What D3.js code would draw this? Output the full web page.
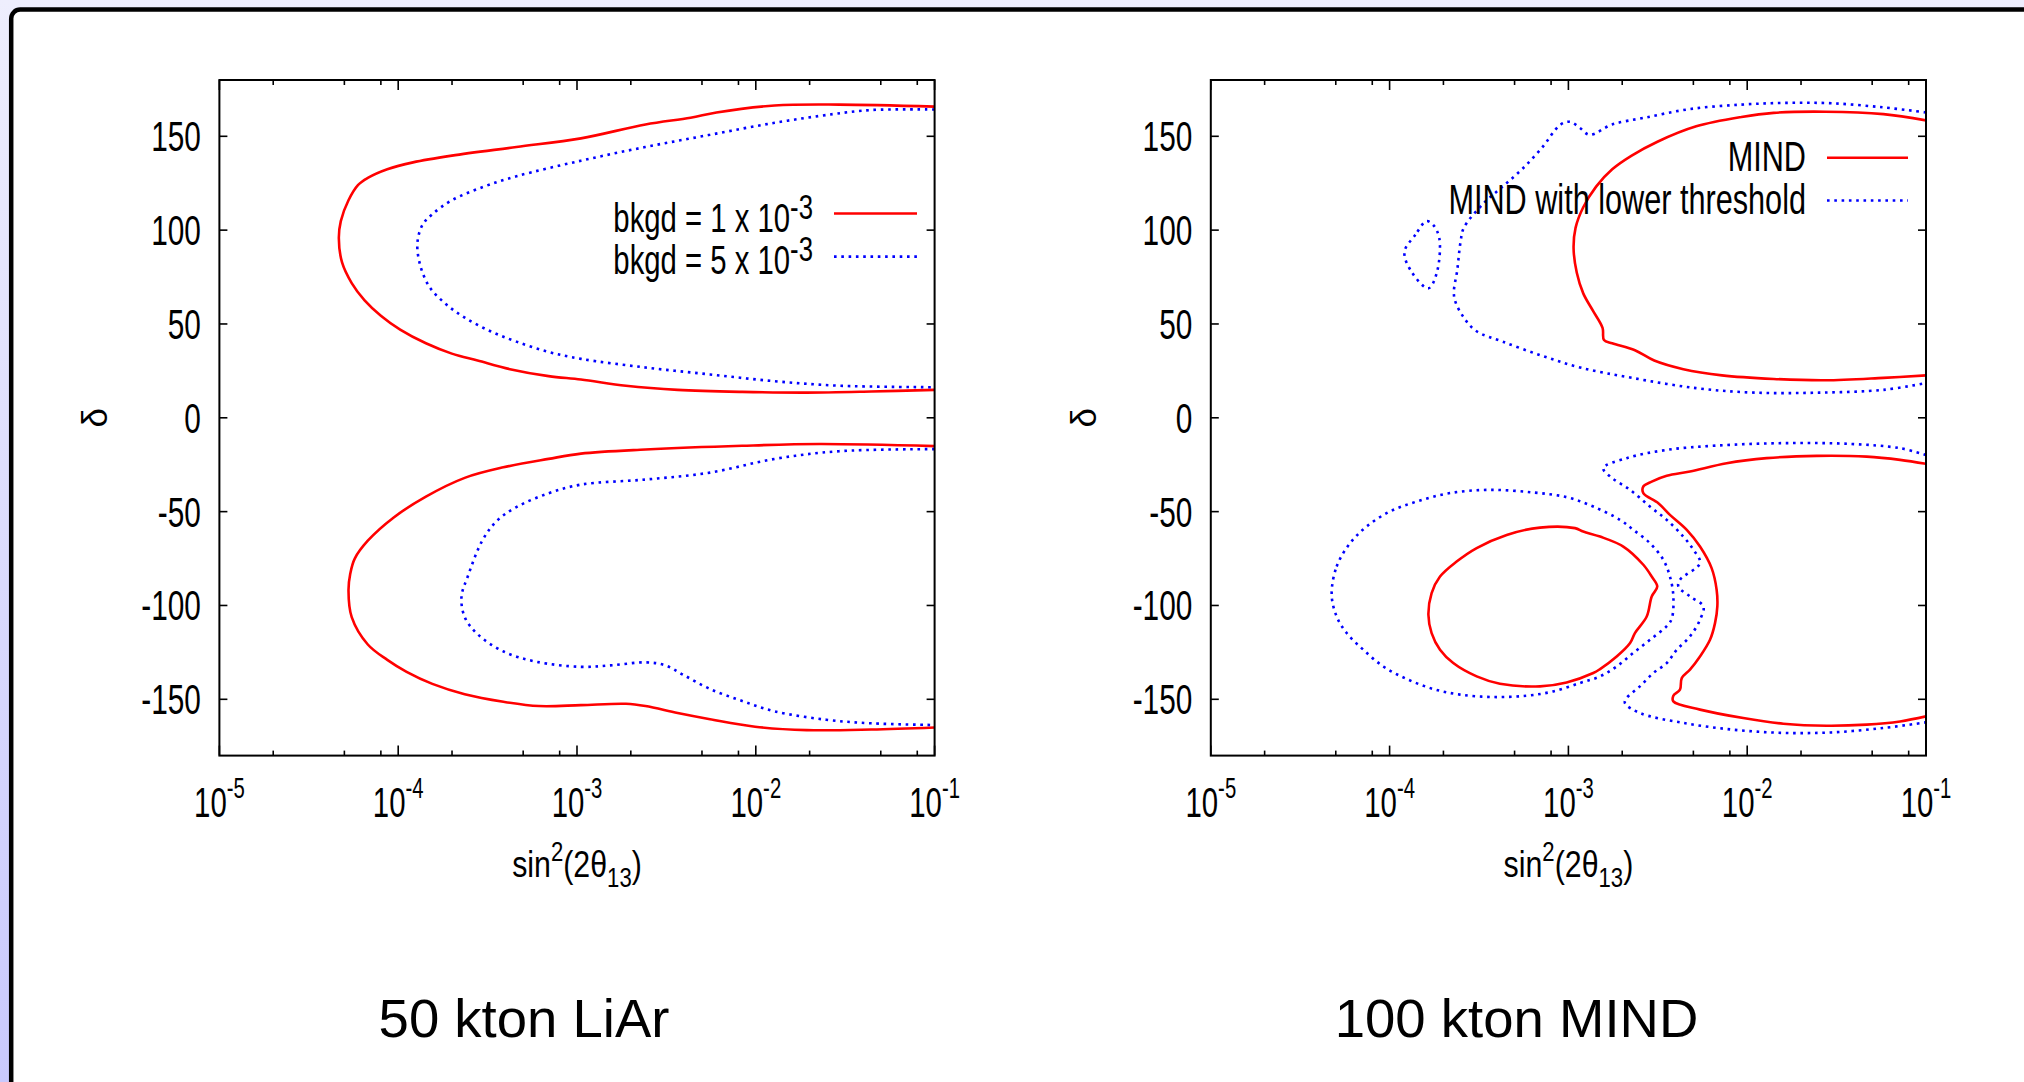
<!DOCTYPE html>
<html><head><meta charset="utf-8">
<script src="https://cdn.jsdelivr.net/npm/d3@7"></script>
<style>html,body{margin:0;padding:0;overflow:hidden;background:#fff}</style>
</head><body>
<svg id="chart" width="2024" height="1082"></svg>
<script>
// ---------------- DATA (pairs are [log10 sin^2(2θ13), δ in degrees]) ----------------
const xTickValues = [1e-5, 1e-4, 1e-3, 1e-2, 1e-1];
const xTickLabels = ["10^{-5}", "10^{-4}", "10^{-3}", "10^{-2}", "10^{-1}"];
const xMinorMantissas = [2, 5, 8];
const yTickValues = [-150, -100, -50, 0, 50, 100, 150];
const yTickLabels = ["-150", "-100", "-50", "0", "50", "100", "150"];
const xDomain = [1e-5, 1e-1];
const yDomain = [-180, 180];
const xAxisTitle = "sin^{2}(2θ_{13})";
const yAxisTitle = "δ";
const panelTitles = ["50 kton LiAr", "100 kton MIND"];

// 50 kton LiAr, bkgd = 1e-3 (red solid)
const liarBkgd1Upper = [[-1.0,165.8],[-1.534,166.9],[-1.895,166.4],[-2.22,162.7],[-2.365,159.9],[-2.617,156.3],[-2.978,148.9],[-3.339,144.3],[-3.70,139.7],[-3.917,136.1],[-4.061,132.4],[-4.17,127.8],[-4.224,124.1],[-4.278,115.9],[-4.321,104.8],[-4.332,95.7],[-4.314,82.8],[-4.26,71.8],[-4.188,62.6],[-4.097,54.4],[-3.989,47.0],[-3.845,39.7],[-3.70,34.2],[-3.556,30.5],[-3.375,25.9],[-3.159,22.2],[-2.978,20.4],[-2.726,17.1],[-2.437,14.9],[-2.076,13.8],[-1.715,13.4],[-1.354,14.0],[-1.0,14.9]];
const liarBkgd1Lower = [[-1.0,-15.1],[-1.643,-14.0],[-2.076,-14.9],[-2.617,-16.9],[-2.978,-19.1],[-3.159,-21.9],[-3.412,-26.4],[-3.628,-32.0],[-3.845,-42.0],[-4.025,-53.1],[-4.17,-65.5],[-4.243,-75.0],[-4.268,-83.0],[-4.278,-92.0],[-4.26,-106.2],[-4.17,-120.8],[-4.061,-129.0],[-3.953,-135.4],[-3.809,-141.8],[-3.628,-147.3],[-3.412,-151.3],[-3.213,-153.6],[-2.978,-153.1],[-2.726,-152.4],[-2.617,-153.6],[-2.437,-157.3],[-2.256,-160.6],[-2.004,-164.6],[-1.715,-166.4],[-1.354,-166.1],[-1.0,-165.0]];
// 50 kton LiAr, bkgd = 5e-3 (blue dotted)
const liarBkgd5Upper = [[-1.0,164.3],[-1.354,164.0],[-1.57,161.8],[-1.895,157.2],[-2.256,150.8],[-2.617,144.3],[-2.978,137.0],[-3.339,128.7],[-3.52,123.2],[-3.70,115.9],[-3.809,108.5],[-3.863,103.0],[-3.892,93.8],[-3.881,82.8],[-3.827,70.0],[-3.736,60.8],[-3.628,53.4],[-3.484,46.1],[-3.339,40.6],[-3.159,35.1],[-2.978,31.4],[-2.617,26.8],[-2.256,23.1],[-1.895,19.5],[-1.534,17.1],[-1.0,16.3]];
const liarBkgd5Lower = [[-1.0,-16.7],[-1.534,-17.8],[-1.895,-21.9],[-2.256,-29.2],[-2.617,-32.9],[-2.978,-35.6],[-3.159,-40.2],[-3.339,-47.6],[-3.448,-54.9],[-3.53,-65.5],[-3.61,-84.3],[-3.646,-95.3],[-3.628,-106.2],[-3.556,-115.3],[-3.412,-124.5],[-3.231,-129.9],[-2.978,-132.7],[-2.798,-131.8],[-2.617,-130.3],[-2.509,-131.8],[-2.401,-137.2],[-2.256,-144.5],[-2.076,-150.9],[-1.895,-156.4],[-1.606,-160.9],[-1.354,-162.8],[-1.0,-163.7]];

// 100 kton MIND (red solid)
const mindUpper = [[-1.0,158.5],[-1.238,161.8],[-1.563,163.1],[-1.852,162.5],[-2.032,160.3],[-2.285,155.3],[-2.502,147.1],[-2.646,139.7],[-2.755,132.4],[-2.845,123.2],[-2.917,112.2],[-2.96,101.2],[-2.971,90.2],[-2.953,77.3],[-2.917,66.3],[-2.863,57.1],[-2.809,47.9],[-2.801,41.5],[-2.755,39.7],[-2.628,36.0],[-2.52,30.5],[-2.357,25.9],[-2.141,22.6],[-1.852,20.7],[-1.563,20.0],[-1.238,21.3],[-1.0,22.6]];
const mindIsland = [[-3.783,-105.0],[-3.765,-93.4],[-3.718,-84.6],[-3.625,-76.6],[-3.513,-69.4],[-3.345,-62.4],[-3.159,-58.5],[-2.963,-58.8],[-2.917,-60.6],[-2.823,-63.3],[-2.693,-68.6],[-2.581,-78.3],[-2.534,-84.6],[-2.503,-89.9],[-2.534,-95.2],[-2.562,-105.9],[-2.628,-114.7],[-2.655,-120.0],[-2.73,-127.2],[-2.823,-133.9],[-2.861,-136.0],[-3.01,-141.0],[-3.159,-143.1],[-3.383,-141.7],[-3.513,-137.8],[-3.644,-130.7],[-3.718,-123.6],[-3.765,-114.7]];
const mindLower = [[-1.0,-24.5],[-1.145,-22.4],[-1.332,-20.7],[-1.611,-20.3],[-1.891,-21.5],[-2.115,-24.2],[-2.32,-28.6],[-2.45,-30.9],[-2.534,-34.0],[-2.581,-36.6],[-2.581,-40.1],[-2.497,-45.5],[-2.432,-51.7],[-2.338,-59.7],[-2.264,-68.6],[-2.199,-80.1],[-2.171,-91.6],[-2.167,-100.5],[-2.18,-109.4],[-2.208,-118.3],[-2.264,-127.2],[-2.32,-134.2],[-2.366,-138.7],[-2.376,-144.9],[-2.413,-148.1],[-2.413,-151.1],[-2.264,-155.5],[-2.022,-160.0],[-1.798,-163.0],[-1.555,-164.1],[-1.332,-163.5],[-1.145,-161.8],[-1.0,-159.1]];
// 100 kton MIND with lower threshold (blue dotted)
const mindLtUpper = [[-1.0,162.7],[-1.238,165.4],[-1.527,167.6],[-1.78,167.8],[-2.032,166.9],[-2.321,164.5],[-2.574,159.9],[-2.755,156.3],[-2.881,150.8],[-2.935,154.4],[-2.989,157.7],[-3.043,156.3],[-3.152,143.4],[-3.26,132.4],[-3.368,123.2],[-3.477,114.0],[-3.585,101.2],[-3.603,93.8],[-3.621,79.1],[-3.639,64.5],[-3.585,53.4],[-3.513,46.1],[-3.368,40.6],[-3.152,33.2],[-2.935,26.8],[-2.646,21.3],[-2.285,15.8],[-1.96,13.4],[-1.599,13.4],[-1.238,14.9],[-1.0,18.5]];
const mindLtIslandUpper = [[-3.794,104.8],[-3.856,97.5],[-3.917,88.3],[-3.874,77.3],[-3.783,69.0],[-3.736,77.3],[-3.722,95.7],[-3.758,103.0]];
const mindLtIslandLower = [[-4.324,-94.3],[-4.296,-79.2],[-4.221,-66.8],[-4.128,-57.9],[-3.998,-49.9],[-3.848,-44.6],[-3.662,-40.1],[-3.438,-38.4],[-3.196,-39.8],[-3.01,-42.3],[-2.861,-47.3],[-2.711,-54.4],[-2.637,-59.7],[-2.544,-66.8],[-2.469,-75.7],[-2.432,-84.6],[-2.413,-95.2],[-2.422,-107.0],[-2.45,-111.0],[-2.544,-118.3],[-2.637,-125.3],[-2.73,-132.5],[-2.823,-137.8],[-2.935,-141.3],[-3.085,-145.8],[-3.233,-148.1],[-3.42,-148.8],[-3.606,-147.5],[-3.756,-144.5],[-3.904,-139.2],[-4.035,-132.5],[-4.147,-123.6],[-4.24,-114.7],[-4.296,-105.9]];
const mindLtLower = [[-1.0,-19.8],[-1.145,-16.2],[-1.425,-13.9],[-1.798,-13.5],[-2.171,-14.8],[-2.45,-17.1],[-2.674,-21.5],[-2.805,-26.8],[-2.767,-31.3],[-2.655,-38.4],[-2.544,-47.3],[-2.45,-54.4],[-2.357,-63.3],[-2.301,-70.3],[-2.264,-77.4],[-2.376,-86.3],[-2.385,-89.9],[-2.32,-95.2],[-2.245,-100.5],[-2.264,-107.6],[-2.32,-116.5],[-2.394,-123.6],[-2.45,-130.7],[-2.525,-136.0],[-2.6,-143.1],[-2.674,-149.3],[-2.684,-152.0],[-2.6,-157.3],[-2.357,-162.6],[-2.078,-166.2],[-1.798,-167.9],[-1.518,-167.6],[-1.239,-165.3],[-1.0,-162.3]];

const liarLegend = ["bkgd = 1 x 10^{-3}", "bkgd = 5 x 10^{-3}"];
const mindLegend = ["MIND", "MIND with lower threshold"];

// ---------------- LAYOUT / STYLE ----------------
const FONT = "'Liberation Sans', Arial, Helvetica, sans-serif";
const plotTop = 80, plotBottom = 755.6;
const RED = "#ff0000", BLUE = "#0000ff";
const styles = {
  solid: {stroke: RED, width: 2.6, dash: null},
  dotted: {stroke: BLUE, width: 2.6, dash: "2.6,4.7"}
};

const panels = [
  {
    x0: 219.4, x1: 934.6, titleX: 524, yLabelX: 94,
    series: [
      {data: liarBkgd1Upper, style: "solid", closed: false},
      {data: liarBkgd1Lower, style: "solid", closed: false},
      {data: liarBkgd5Upper, style: "dotted", closed: false},
      {data: liarBkgd5Lower, style: "dotted", closed: false}
    ],
    legend: {labels: liarLegend, styles: ["solid", "dotted"], textRight: 813, baselines: [231.7, 273.6],
             sx0: 834, sx1: 917, sy: [213.5, 256.6], size: 41, sxText: 0.715, supSize: 36, supRaise: 13}
  },
  {
    x0: 1210.8, x1: 1926, titleX: 1516.5, yLabelX: 1083,
    series: [
      {data: mindUpper, style: "solid", closed: false},
      {data: mindIsland, style: "solid", closed: true},
      {data: mindLower, style: "solid", closed: false},
      {data: mindLtUpper, style: "dotted", closed: false},
      {data: mindLtIslandUpper, style: "dotted", closed: true},
      {data: mindLtIslandLower, style: "dotted", closed: true},
      {data: mindLtLower, style: "dotted", closed: false}
    ],
    legend: {labels: mindLegend, styles: ["solid", "dotted"], textRight: 1806, baselines: [170.8, 214],
             sx0: 1827, sx1: 1908, sy: [157.7, 200.5], size: 42, sxText: 0.73, supSize: 36, supRaise: 13}
  }
];

// ---------------- HELPERS ----------------
function parseRich(str) {
  const out = [];
  const re = /([\^_])\{([^}]*)\}/g;
  let last = 0, m;
  while ((m = re.exec(str)) !== null) {
    if (m.index > last) out.push({t: str.slice(last, m.index), k: "n"});
    out.push({t: m[2], k: m[1] === "^" ? "sup" : "sub"});
    last = re.lastIndex;
  }
  if (last < str.length) out.push({t: str.slice(last), k: "n"});
  return out;
}
function richText(g, x, y, str, o) {
  const t = g.append("text")
    .attr("transform", `translate(${x},${y}) scale(${o.sx || 1},1)`)
    .attr("text-anchor", o.anchor || "start")
    .attr("font-family", FONT)
    .attr("font-size", o.size)
    .attr("fill", "#000");
  let cur = 0;
  parseRich(str).forEach(p => {
    let target = 0, fs = o.size;
    if (p.k === "sup") { target = -(o.supRaise || o.size * 0.45); fs = o.supSize || o.size * 0.7; }
    if (p.k === "sub") { target = (o.subDrop || o.size * 0.3); fs = o.subSize || o.size * 0.7; }
    t.append("tspan").attr("dy", target - cur).attr("font-size", fs).text(p.t);
    cur = target;
  });
  return t;
}

// ---------------- DRAW ----------------
const svg = d3.select("#chart");
const defs = svg.append("defs");
const grad = defs.append("linearGradient").attr("id", "bg").attr("x1", 0).attr("y1", 0).attr("x2", 0).attr("y2", 1);
grad.append("stop").attr("offset", "0").attr("stop-color", "#eeeefd");
grad.append("stop").attr("offset", "1").attr("stop-color", "#c9c9fd");
svg.append("rect").attr("width", 2024).attr("height", 1082).attr("fill", "url(#bg)");
svg.append("rect").attr("x", 11.2).attr("y", 9.6).attr("width", 2200).attr("height", 1300)
  .attr("rx", 9).attr("fill", "#ffffff").attr("stroke", "#000").attr("stroke-width", 4.5);

panels.forEach((p, pi) => {
  const g = svg.append("g");
  const x = d3.scaleLog().domain(xDomain).range([p.x0, p.x1]);
  const y = d3.scaleLinear().domain(yDomain).range([plotBottom, plotTop]);

  const clipId = "clip" + pi;
  defs.append("clipPath").attr("id", clipId).append("rect")
    .attr("x", p.x0).attr("y", plotTop).attr("width", p.x1 - p.x0).attr("height", plotBottom - plotTop);

  // curves
  const curves = g.append("g").attr("clip-path", `url(#${clipId})`);
  p.series.forEach(s => {
    const st = styles[s.style];
    const line = d3.line()
      .x(d => x(Math.pow(10, d[0])))
      .y(d => y(d[1]))
      .curve(s.closed ? d3.curveCatmullRomClosed.alpha(0.5) : d3.curveCatmullRom.alpha(0.5));
    curves.append("path").attr("d", line(s.data))
      .attr("fill", "none").attr("stroke", st.stroke).attr("stroke-width", st.width)
      .attr("stroke-dasharray", st.dash).attr("stroke-linejoin", "round");
  });

  // ticks
  const tickG = g.append("g").attr("stroke", "#000").attr("stroke-width", 1.6);
  const minors = [];
  for (let e = -5; e < -1; e++) xMinorMantissas.forEach(m => minors.push(m * Math.pow(10, e)));
  minors.forEach(v => {
    tickG.append("line").attr("x1", x(v)).attr("x2", x(v)).attr("y1", plotBottom).attr("y2", plotBottom - 5);
    tickG.append("line").attr("x1", x(v)).attr("x2", x(v)).attr("y1", plotTop).attr("y2", plotTop + 5);
  });
  xTickValues.forEach(v => {
    tickG.append("line").attr("x1", x(v)).attr("x2", x(v)).attr("y1", plotBottom).attr("y2", plotBottom - 10);
    tickG.append("line").attr("x1", x(v)).attr("x2", x(v)).attr("y1", plotTop).attr("y2", plotTop + 10);
  });
  yTickValues.forEach(v => {
    tickG.append("line").attr("x1", p.x0).attr("x2", p.x0 + 8).attr("y1", y(v)).attr("y2", y(v));
    tickG.append("line").attr("x1", p.x1).attr("x2", p.x1 - 8).attr("y1", y(v)).attr("y2", y(v));
  });

  // frame
  g.append("rect").attr("x", p.x0).attr("y", plotTop).attr("width", p.x1 - p.x0).attr("height", plotBottom - plotTop)
    .attr("fill", "none").attr("stroke", "#000").attr("stroke-width", 2);

  // tick labels
  yTickValues.forEach((v, i) => {
    richText(g, p.x0 - 18.5, y(v) + 15, yTickLabels[i], {size: 42, sx: 0.71, anchor: "end"});
  });
  xTickValues.forEach((v, i) => {
    richText(g, x(v), 816.7, xTickLabels[i], {size: 42, sx: 0.70, anchor: "middle", supSize: 29, supRaise: 18.5});
  });

  // axis titles
  richText(g, (p.x0 + p.x1) / 2, 876.7, xAxisTitle,
    {size: 37, sx: 0.82, anchor: "middle", supSize: 27, supRaise: 16, subSize: 27, subDrop: 10});
  g.append("text").attr("transform", `translate(${p.yLabelX},${y(0)}) rotate(-90)`)
    .attr("text-anchor", "middle").attr("dominant-baseline", "central")
    .attr("font-family", FONT).attr("font-size", 35).text(yAxisTitle);

  // legend
  const L = p.legend;
  L.labels.forEach((lab, i) => {
    richText(g, L.textRight, L.baselines[i], lab, {size: L.size, sx: L.sxText, anchor: "end", supSize: L.supSize, supRaise: L.supRaise});
    const st = styles[L.styles[i]];
    g.append("line").attr("x1", L.sx0).attr("x2", L.sx1).attr("y1", L.sy[i]).attr("y2", L.sy[i])
      .attr("stroke", st.stroke).attr("stroke-width", st.width).attr("stroke-dasharray", st.dash);
  });

  // panel title
  g.append("text").attr("x", p.titleX).attr("y", 1036.7).attr("text-anchor", "middle")
    .attr("font-family", FONT).attr("font-size", 54.5).attr("fill", "#000").text(panelTitles[pi]);
});
</script>
</body></html>
